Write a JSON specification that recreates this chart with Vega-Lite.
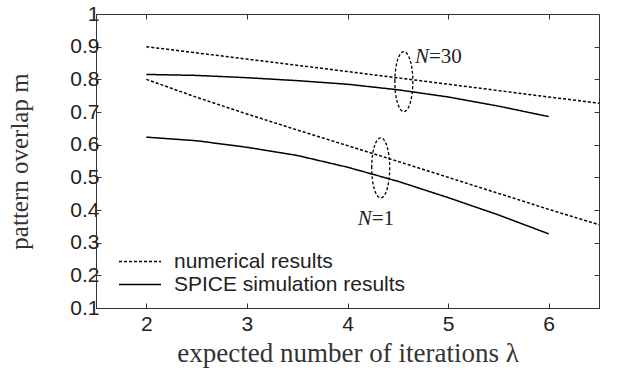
{
  "$schema": "https://vega.github.io/schema/vega-lite/v6.json",
  "width": 503,
  "height": 294,
  "autosize": {"type": "none"},
  "padding": {"left": 96, "top": 14, "right": 27, "bottom": 74},
  "background": "white",
  "datasets": {
    "lines": [
      {"lambda": 2.0, "m": 0.900, "type": "numerical results", "N": "30"},
      {"lambda": 3.0, "m": 0.862, "type": "numerical results", "N": "30"},
      {"lambda": 4.0, "m": 0.824, "type": "numerical results", "N": "30"},
      {"lambda": 5.0, "m": 0.785, "type": "numerical results", "N": "30"},
      {"lambda": 6.0, "m": 0.746, "type": "numerical results", "N": "30"},
      {"lambda": 6.5, "m": 0.727, "type": "numerical results", "N": "30"},
      {"lambda": 2.0, "m": 0.815, "type": "SPICE simulation results", "N": "30"},
      {"lambda": 2.5, "m": 0.812, "type": "SPICE simulation results", "N": "30"},
      {"lambda": 3.0, "m": 0.805, "type": "SPICE simulation results", "N": "30"},
      {"lambda": 3.5, "m": 0.796, "type": "SPICE simulation results", "N": "30"},
      {"lambda": 4.0, "m": 0.785, "type": "SPICE simulation results", "N": "30"},
      {"lambda": 4.5, "m": 0.768, "type": "SPICE simulation results", "N": "30"},
      {"lambda": 5.0, "m": 0.746, "type": "SPICE simulation results", "N": "30"},
      {"lambda": 5.5, "m": 0.718, "type": "SPICE simulation results", "N": "30"},
      {"lambda": 6.0, "m": 0.686, "type": "SPICE simulation results", "N": "30"},
      {"lambda": 2.0, "m": 0.800, "type": "numerical results", "N": "1"},
      {"lambda": 2.5, "m": 0.745, "type": "numerical results", "N": "1"},
      {"lambda": 3.0, "m": 0.694, "type": "numerical results", "N": "1"},
      {"lambda": 3.5, "m": 0.645, "type": "numerical results", "N": "1"},
      {"lambda": 4.0, "m": 0.597, "type": "numerical results", "N": "1"},
      {"lambda": 4.5, "m": 0.549, "type": "numerical results", "N": "1"},
      {"lambda": 5.0, "m": 0.500, "type": "numerical results", "N": "1"},
      {"lambda": 5.5, "m": 0.451, "type": "numerical results", "N": "1"},
      {"lambda": 6.0, "m": 0.402, "type": "numerical results", "N": "1"},
      {"lambda": 6.5, "m": 0.355, "type": "numerical results", "N": "1"},
      {"lambda": 2.0, "m": 0.623, "type": "SPICE simulation results", "N": "1"},
      {"lambda": 2.5, "m": 0.612, "type": "SPICE simulation results", "N": "1"},
      {"lambda": 3.0, "m": 0.592, "type": "SPICE simulation results", "N": "1"},
      {"lambda": 3.5, "m": 0.567, "type": "SPICE simulation results", "N": "1"},
      {"lambda": 4.0, "m": 0.531, "type": "SPICE simulation results", "N": "1"},
      {"lambda": 4.5, "m": 0.488, "type": "SPICE simulation results", "N": "1"},
      {"lambda": 5.0, "m": 0.438, "type": "SPICE simulation results", "N": "1"},
      {"lambda": 5.5, "m": 0.385, "type": "SPICE simulation results", "N": "1"},
      {"lambda": 6.0, "m": 0.327, "type": "SPICE simulation results", "N": "1"}
    ],
    "ellipses": [
      {"lambda": 4.56, "m": 0.793},
      {"lambda": 4.33, "m": 0.529}
    ],
    "labels": [
      {"lambda": 4.81, "m": 0.867, "sym": "N", "rest": "=30"},
      {"lambda": 4.24, "m": 0.372, "sym": "N", "rest": "=1"}
    ]
  },
  "config": {
    "view": {"stroke": "#333", "strokeWidth": 1},
    "axis": {
      "grid": false,
      "labelFont": "Liberation Sans",
      "labelFontSize": 21,
      "labelColor": "#222",
      "titleFont": "Liberation Serif",
      "titleFontWeight": "normal",
      "titleColor": "#333",
      "domainColor": "#333",
      "tickColor": "#333",
      "tickSize": -5
    },
    "legend": {
      "labelFont": "Liberation Sans",
      "labelFontSize": 21,
      "labelColor": "#222"
    }
  },
  "resolve": {"axis": {"x": "independent", "y": "independent"}},
  "layer": [
    {
      "data": {"name": "lines"},
      "mark": {"type": "line", "color": "black", "strokeWidth": 1.5, "clip": true},
      "encoding": {
        "x": {
          "field": "lambda", "type": "quantitative",
          "scale": {"domain": [1.5, 6.5], "nice": false, "zero": false},
          "axis": {"title": "expected number of iterations λ", "values": [2, 3, 4, 5, 6], "titlePadding": 6, "titleFontSize": 27, "labelPadding": 10}
        },
        "y": {
          "field": "m", "type": "quantitative",
          "scale": {"domain": [0.1, 1], "nice": false, "zero": false},
          "axis": {"title": "pattern overlap  m", "values": [0.1, 0.2, 0.3, 0.4, 0.5, 0.6, 0.7, 0.8, 0.9, 1], "format": ".1~f", "titlePadding": 37, "titleFontSize": 25, "labelPadding": 2}
        },
        "strokeDash": {
          "field": "type", "type": "nominal",
          "scale": {"domain": ["numerical results", "SPICE simulation results"], "range": [[3, 2], [1, 0]]},
          "legend": {
            "title": null,
            "orient": "none",
            "legendX": 32.5,
            "legendY": 236,
            "symbolType": "M -2 0 H 2",
            "symbolSize": 441,
            "symbolStrokeColor": "black",
            "symbolStrokeWidth": 1.5,
            "labelOffset": 22.5,
            "labelLimit": 400,
            "rowPadding": 1
          }
        },
        "detail": {"field": "N"}
      }
    },
    {
      "data": {"name": "ellipses"},
      "mark": {
        "type": "point",
        "shape": "M -0.3 0 A 0.3 1 0 1 1 0.3 0 A 0.3 1 0 1 1 -0.3 0 Z",
        "size": 3600,
        "filled": false,
        "stroke": "black",
        "strokeWidth": 1.3,
        "strokeDash": [3, 2],
        "opacity": 1
      },
      "encoding": {
        "x": {"field": "lambda", "type": "quantitative", "axis": null},
        "y": {"field": "m", "type": "quantitative", "axis": null}
      }
    },
    {
      "data": {"name": "labels"},
      "mark": {"type": "text", "font": "Liberation Serif", "fontStyle": "italic", "fontSize": 21, "align": "right", "baseline": "middle", "color": "#222"},
      "encoding": {
        "x": {"field": "lambda", "type": "quantitative", "axis": null},
        "y": {"field": "m", "type": "quantitative", "axis": null},
        "text": {"field": "sym"}
      }
    },
    {
      "data": {"name": "labels"},
      "mark": {"type": "text", "font": "Liberation Serif", "fontSize": 21, "align": "left", "baseline": "middle", "color": "#222"},
      "encoding": {
        "x": {"field": "lambda", "type": "quantitative", "axis": null},
        "y": {"field": "m", "type": "quantitative", "axis": null},
        "text": {"field": "rest"}
      }
    },
    {
      "data": {"name": "lines"},
      "mark": {"type": "line", "opacity": 0},
      "encoding": {
        "x": {"field": "lambda", "type": "quantitative", "axis": {"orient": "top", "title": null, "labels": false, "domain": false, "values": [2, 3, 4, 5, 6]}},
        "y": {"field": "m", "type": "quantitative", "axis": {"orient": "right", "title": null, "labels": false, "domain": false, "values": [0.1, 0.2, 0.3, 0.4, 0.5, 0.6, 0.7, 0.8, 0.9, 1]}},
        "detail": {"field": "N"}
      }
    }
  ]
}
